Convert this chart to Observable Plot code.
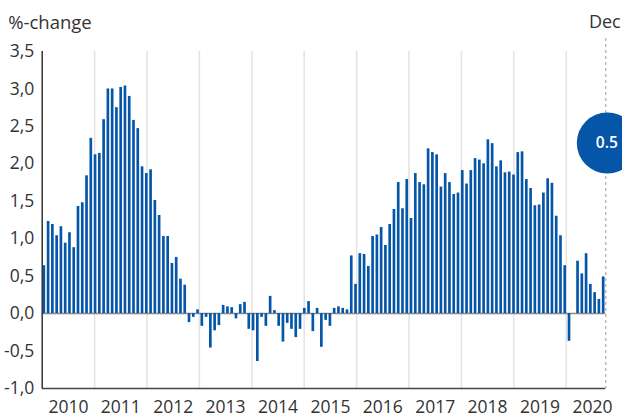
<!DOCTYPE html>
<html><head><meta charset="utf-8">
<script src="https://cdn.jsdelivr.net/npm/d3@7"></script>
<script src="https://cdn.jsdelivr.net/npm/@observablehq/plot@0.6"></script>
<style>
body{margin:0;background:#fff;}
#wrap{position:relative;width:622px;height:419px;overflow:hidden;background:#fff;}
#wrap svg{position:absolute;left:0;top:0;}
</style></head><body><div id="wrap"></div>
<script>
// Monthly %-change, Jan 2010 – Dec 2020
const v2010 = [0.64, 1.23, 1.19, 1.04, 1.16, 0.94, 1.08, 0.88, 1.43, 1.48, 1.84, 2.34];
const v2011 = [2.12, 2.14, 2.59, 3.00, 3.00, 2.75, 3.02, 3.04, 2.90, 2.58, 2.47, 1.96];
const v2012 = [1.87, 1.92, 1.51, 1.31, 1.03, 1.03, 0.67, 0.75, 0.46, 0.38, -0.12, -0.05];
const v2013 = [0.05, -0.17, -0.05, -0.46, -0.23, -0.16, 0.11, 0.09, 0.08, -0.07, 0.12, 0.15];
const v2014 = [-0.21, -0.23, -0.64, -0.05, -0.17, 0.23, 0.04, -0.17, -0.38, -0.13, -0.21, -0.32];
const v2015 = [-0.21, 0.07, 0.16, -0.24, 0.07, -0.45, -0.09, -0.17, 0.07, 0.09, 0.07, 0.05];
const v2016 = [0.77, 0.39, 0.80, 0.79, 0.63, 1.03, 1.05, 1.15, 0.91, 1.19, 1.39, 1.75];
const v2017 = [1.40, 1.79, 1.27, 1.87, 1.75, 1.72, 2.20, 2.15, 2.12, 1.69, 1.87, 1.75];
const v2018 = [1.59, 1.61, 1.91, 1.73, 1.91, 2.07, 2.05, 2.00, 2.32, 2.27, 1.96, 2.04];
const v2019 = [1.88, 1.89, 1.85, 2.15, 2.16, 1.79, 1.67, 1.44, 1.45, 1.61, 1.80, 1.74];
const v2020 = [1.30, 1.04, 0.64, -0.37, null, 0.70, 0.53, 0.80, 0.39, 0.28, 0.19, 0.49];

const yearLabels = [2010, 2011, 2012, 2013, 2014, 2015, 2016, 2017, 2018, 2019, 2020];
const yTicks = [-1, -0.5, 0, 0.5, 1, 1.5, 2, 2.5, 3, 3.5];
const yTitle = "%-change";

const values = [].concat(v2010, v2011, v2012, v2013, v2014, v2015, v2016, v2017, v2018, v2019, v2020);
const data = values.map((v, i) => ({i, v, date: new Date(yearLabels[0], i, 1)}));
const lastDatum = data[data.length - 1];
const lastMonth = d3.timeFormat("%b")(lastDatum.date);
const lastValue = lastDatum.v.toFixed(1);

const BLUE = "#0556a8";
const FONT = "'Open Sans', sans-serif";
const W = 622, H = 419, mL = 41.7, mT = 51, mB = 31;
const fmt = d => d.toFixed(1).replace(".", ",");

// Background layer: year grid and year labels (own time axis)
const grid = Plot.plot({
  width: W, height: H,
  marginLeft: mL, marginRight: 3.9, marginTop: mT, marginBottom: mB,
  style: {fontFamily: FONT, fontSize: "17.5px", color: "#333", background: "transparent"},
  x: {domain: [yearLabels[0], yearLabels[yearLabels.length - 1] + 1]},
  y: {domain: [yTicks[0], yTicks[yTicks.length - 1]], axis: null},
  marks: [
    Plot.ruleX(yearLabels.slice(1), {stroke: "#e4e4e4", strokeWidth: 1.6}),
    Plot.axisX({ticks: yearLabels.map(y => y + 0.5), tickSize: 0, tickPadding: 12.5,
      tickFormat: d => String(Math.floor(d)), fill: "#333", fontSize: 17.5})
  ]
});

// Foreground layer: bars and value axis
const main = Plot.plot({
  width: W, height: H,
  marginLeft: mL, marginRight: 16.7, marginTop: mT, marginBottom: mB,
  style: {fontFamily: FONT, fontSize: "17.5px", color: "#333", background: "transparent", overflow: "visible"},
  x: {domain: [0, values.length], axis: null},
  y: {domain: [yTicks[0], yTicks[yTicks.length - 1]], axis: null},
  marks: [
    Plot.ruleY([0], {stroke: "#8a8a8a", strokeWidth: 1.5}),
    Plot.rectY(data.filter(d => d.v != null), {
      x1: "i", x2: d => d.i + 1, y1: 0, y2: "v", fill: BLUE, insetLeft: 0.8, insetRight: 0.8
    }),
    Plot.ruleX([values.length], {stroke: "#9a9a9a", strokeDasharray: "3,3", strokeWidth: 1, insetTop: -13}),
    Plot.ruleX([0], {stroke: "#333", strokeWidth: 1.5}),
    Plot.ruleY([yTicks[0]], {stroke: "#444", strokeWidth: 1.5}),
    Plot.axisY({ticks: yTicks, tickFormat: fmt, tickSize: 0, tickPadding: 8, fill: "#333", fontSize: 17.5, label: null}),
    Plot.text([yTitle], {frameAnchor: "top-left", dx: -34, dy: -36, textAnchor: "start", fill: "#333", fontSize: 18.5}),
    Plot.text([lastMonth], {x: [values.length], frameAnchor: "top", dy: -36, dx: -1, textAnchor: "middle", fill: "#333", fontSize: 18}),
    Plot.dot([lastValue], {frameAnchor: "right", dx: 1.5, dy: -77, r: 30.5, fill: BLUE, stroke: "none"}),
    Plot.text([lastValue], {frameAnchor: "right", dx: 1, dy: -77, textAnchor: "middle", fill: "white", fontSize: 15.5, fontWeight: 600})
  ]
});

const wrap = document.getElementById("wrap");
wrap.appendChild(grid);
wrap.appendChild(main);
</script>
</body></html>
